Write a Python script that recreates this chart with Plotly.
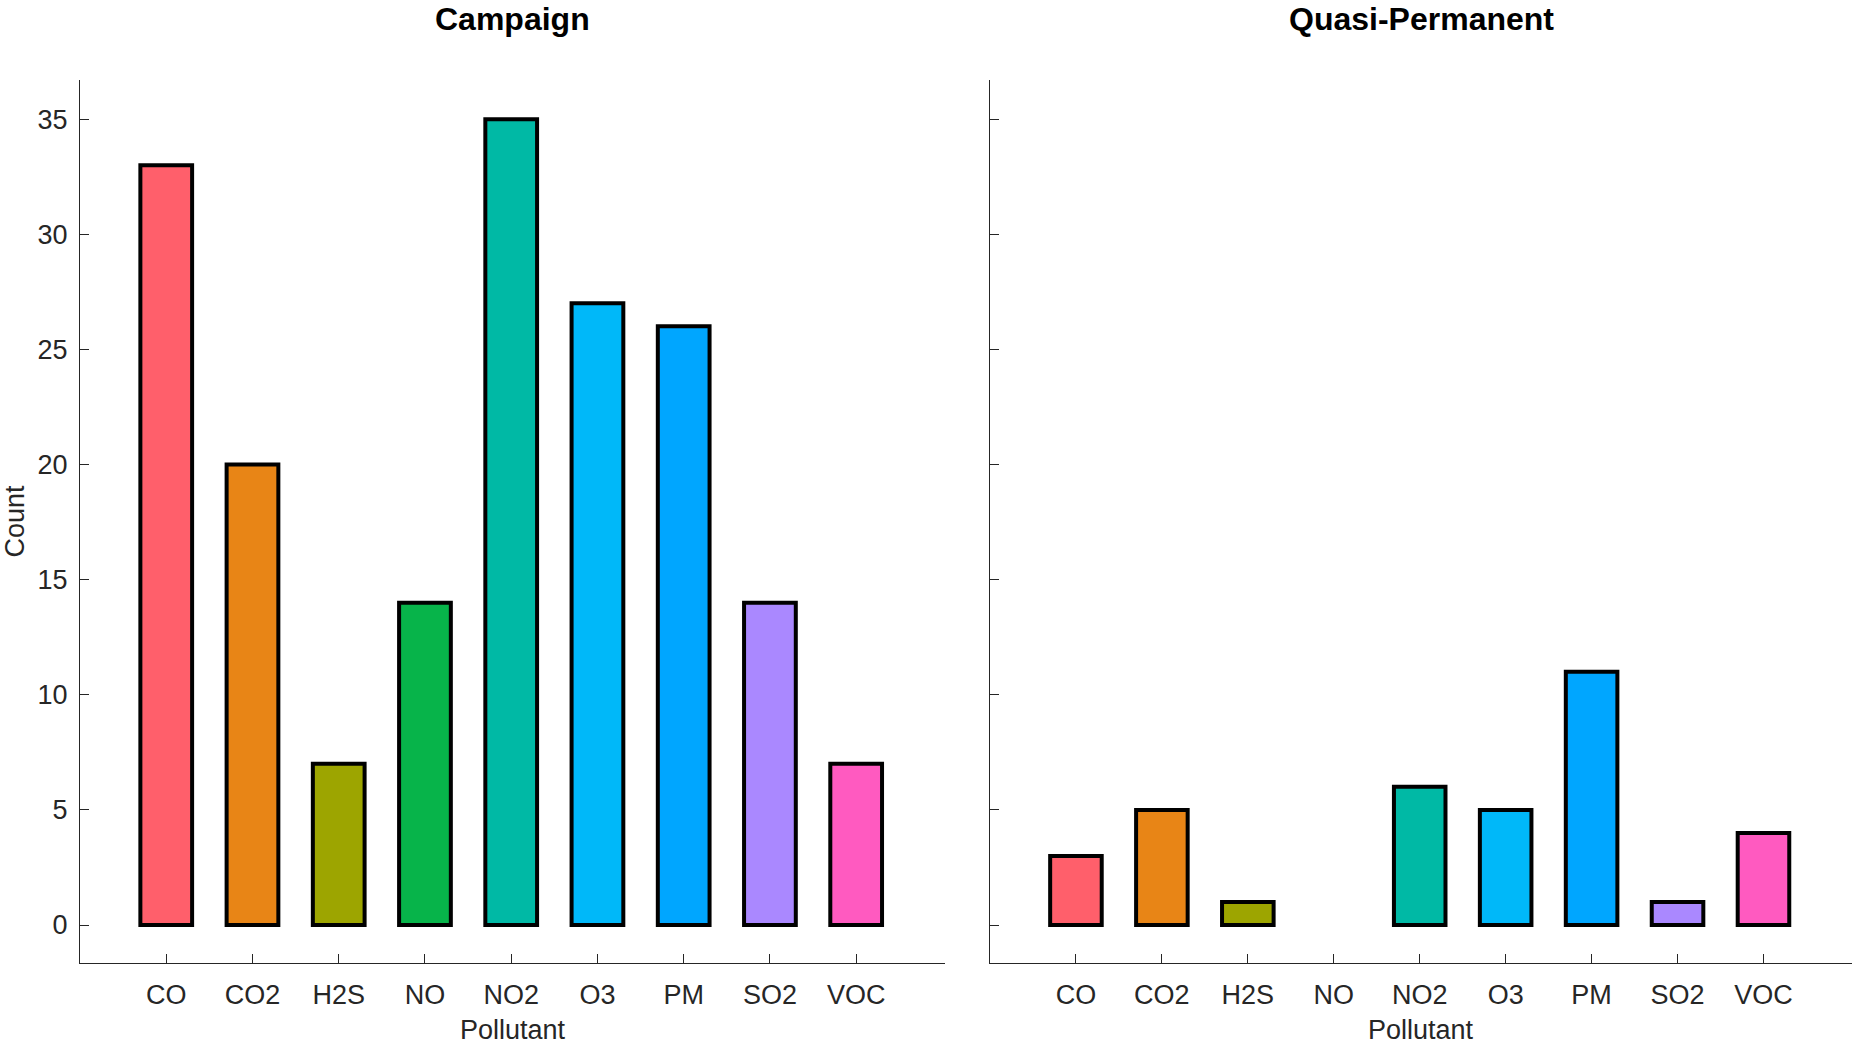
import plotly.graph_objects as go
from plotly.subplots import make_subplots

pollutants = ["CO", "CO2", "H2S", "NO", "NO2", "O3", "PM", "SO2", "VOC"]
campaign_counts = [33, 20, 7, 14, 35, 27, 26, 14, 7]
quasi_counts = [3, 5, 1, 0, 6, 5, 11, 1, 4]
bar_colors = ["#FF5F6B", "#E88516", "#9DA500", "#07B44A", "#00B9A5",
              "#00B8F9", "#00A6FF", "#AA88FF", "#FF5AC0"]
panel_titles = ["Campaign", "Quasi-Permanent"]

W, H = 1852, 1046
ml, mr, mt, mb = 80, 0, 80, 83
pw = W - ml - mr
ph = H - mt - mb
FONT = "Liberation Sans, Arial, sans-serif"

fig = make_subplots(rows=1, cols=2, shared_yaxes=False, horizontal_spacing=0.0)

xidx = list(range(len(pollutants)))
for col, vals in zip([1, 2], [campaign_counts, quasi_counts]):
    fig.add_trace(go.Bar(
        x=xidx, y=vals, width=0.6,
        marker=dict(color=bar_colors,
                    line=dict(color="black", width=[4 if v != 0 else 0 for v in vals])),
        showlegend=False, hoverinfo="x+y"), row=1, col=col)

d1 = [0, (945 - ml) / pw]
d2 = [(990 - ml) / pw, 1]

axis_common = dict(showline=True, linecolor="#262626", linewidth=1.3,
                   ticks="inside", ticklen=9, tickwidth=1.3, tickcolor="#262626",
                   showgrid=False, zeroline=False, mirror=False,
                   tickfont=dict(family=FONT, size=27, color="#262626"))

fig.update_xaxes(**axis_common, range=[-1, 9.03], tickmode="array", tickvals=xidx,
                 ticktext=pollutants, ticklabelstandoff=7)
fig.update_yaxes(**axis_common, range=[-1.65, 36.7], tickmode="array",
                 tickvals=[0, 5, 10, 15, 20, 25, 30, 35], ticklabelstandoff=6)
fig.update_layout(xaxis=dict(domain=d1), xaxis2=dict(domain=d2),
                  yaxis2=dict(showticklabels=False))

# titles
centers = [(d1[0] + d1[1]) / 2, (d2[0] + d2[1]) / 2]
for c, t in zip(centers, panel_titles):
    fig.add_annotation(text="<b>%s</b>" % t, x=c, xref="paper", xanchor="center",
                       y=1, yref="paper", yshift=mt - 19, yanchor="middle", showarrow=False,
                       font=dict(family=FONT, size=32, color="black"))
    fig.add_annotation(text="Pollutant", x=c, xref="paper", xanchor="center",
                       y=0, yref="paper", yshift=-(1030 - (H - mb)), yanchor="middle",
                       showarrow=False, font=dict(family=FONT, size=27, color="#262626"))

fig.add_annotation(text="Count", x=0, xref="paper", xshift=-(ml - 14), y=0.5, yref="paper",
                   textangle=-90, xanchor="center", yanchor="middle", showarrow=False,
                   font=dict(family=FONT, size=27, color="#262626"))

fig.update_layout(width=W, height=H, margin=dict(l=ml, r=mr, t=mt, b=mb),
                  plot_bgcolor="white", paper_bgcolor="white", bargap=0.4)

fig.write_html("out.html", config={"displayModeBar": False},
               post_script="document.body.style.margin='0';document.body.style.overflow='hidden';")
